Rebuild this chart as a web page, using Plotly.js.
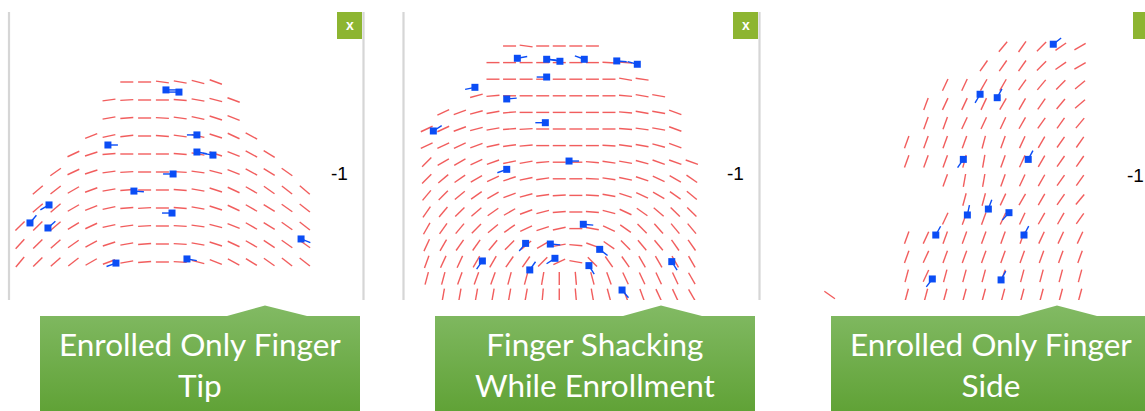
<!DOCTYPE html>
<html><head><meta charset="utf-8">
<script src="https://cdn.plot.ly/plotly-3.0.1.min.js"></script>
<style>html,body{margin:0;padding:0;background:#fff;}#chart{width:1145px;height:411px;}</style>
</head><body><div id="chart"></div>
<script>
// ===== DATA =====
// Panel 1: "Enrolled Only Finger Tip" — ridge orientation (degrees) per grid row, first column per row
const tipRowStart = [6,5,5,4,3,2,1,1,0,0,0];
const tipAngles = [
  [0,0,-8,-10,-15,-20],
  [8,3,0,0,-5,-10,-15,-20],
  [10,5,0,-3,-8,-12,-18,-22],
  [22,12,6,0,-4,-8,-12,-18,-25,-28],
  [25,18,5,0,0,0,-5,-10,-18,-22,-28,-32],
  [35,25,18,8,3,0,0,-3,-8,-15,-22,-28,-32,-35],
  [40,38,30,20,10,5,0,0,-5,-10,-18,-25,-30,-35,-38,-40],
  [40,40,30,22,12,5,3,0,-5,-10,-18,-25,-30,-32,-35,-38],
  [45,45,40,32,25,12,8,3,0,-3,-8,-15,-22,-30,-32,-35,-38],
  [48,45,42,35,28,18,10,5,0,-3,-10,-18,-25,-30,-33,-35,-35],
  [50,45,42,38,30,20,10,5,0,-3,-15,-22,-28,-32,-35,-38,-38]
];
// minutiae: grid column, grid row, direction (degrees)
const tipMinCol = [8.20,8.93,9.94,4.94,9.94,10.84,8.60,6.40,1.63,0.56,1.57,8.54,15.79,5.39,9.38];
const tipMinRow = [0.44,0.56,2.94,3.50,3.89,4.06,5.11,6.06,6.83,7.83,8.11,7.28,8.72,10.06,9.83];
const tipMinDir = [0,180,180,0,-10,170,180,-4,210,50,42,180,-22,200,-10];

// Panel 2: "Finger Shacking While Enrollment"
const shakeRowStart = [5,4,4,3,1,0,0,0,0,0,0,0,0,0,0,1];
const shakeAngles = [
  [0,-8,0,0,0,0],
  [0,0,0,0,0,0,0,-3,-5],
  [0,0,0,0,0,0,0,0,-10,-8],
  [15,5,0,0,0,0,0,0,0,-5,-10,-10],
  [25,20,15,10,5,0,0,0,0,0,0,-5,-10,-10,-20],
  [25,25,20,15,10,5,3,0,0,0,0,0,-5,-8,-10,-20],
  [25,25,25,20,12,8,5,0,0,0,0,-3,-8,-10,-15,-20],
  [45,30,30,25,20,12,10,5,0,0,-5,-8,-10,-15,-20,-20,-20],
  [45,40,35,30,25,18,12,8,0,0,-3,-8,-12,-18,-25,-30,-35],
  [50,45,40,35,30,20,15,8,3,0,-3,-10,-18,-25,-30,-35,-40],
  [55,50,45,40,35,30,20,15,5,0,-5,-15,-25,-35,-40,-45,-45],
  [60,55,50,45,40,35,25,18,12,0,-10,-25,-35,-45,-48,-50,-50],
  [65,60,55,55,50,45,40,30,10,-5,-20,-35,-45,-50,-50,-55,-55],
  [70,65,65,60,60,55,55,45,25,-10,-45,-55,-55,-60,-60,-60,-60],
  [75,75,70,70,70,75,75,80,90,-85,-75,-70,-65,-65,-65,-65,-60],
  [80,80,80,80,80,80,85,90,-85,-80,-75,-70,-70,-65,-65,-60]
];
const shakeMinCol = [5.47,7.24,8.04,9.51,11.47,12.71,7.24,2.91,4.83,7.16,0.40,8.59,4.83,9.45,5.97,7.46,10.44,3.36,7.74,6.22,9.79,14.79,11.79];
const shakeMinRow = [0.74,0.80,0.92,0.80,0.90,1.10,1.87,2.49,3.19,4.62,5.12,6.93,7.43,10.74,11.89,11.93,12.25,12.95,12.79,13.49,13.23,12.99,14.70];
const shakeMinDir = [10,-5,170,160,-5,165,180,192,5,180,33,0,200,-5,230,-5,-38,235,213,55,-58,-58,-50];

// Panel 3: "Enrolled Only Finger Side"
const sideRowStart = [5,4,2,1,1,0,0,2,3,2,0,0,0,-4];
const sideAngles = [
  [50,55,45,35,30],
  [55,55,55,45,35,30],
  [65,65,60,60,55,50,45,40],
  [70,65,65,65,60,60,55,50,40],
  [70,70,65,65,65,60,55,55,50],
  [70,70,70,70,75,70,65,60,55,55],
  [70,70,70,75,80,70,65,60,55,55],
  [70,80,80,70,65,60,55,55],
  [75,75,65,60,60,55,50],
  [65,70,70,65,65,60,60,55],
  [70,65,70,70,70,70,70,65,65,65],
  [70,65,70,70,70,70,70,70,70,70],
  [75,65,75,75,75,70,75,75,75,75],
  [-35,null,null,null,75,75,75,75,75,75,75,75,75,75]
];
const sideMinCol = [7.61,3.81,4.70,2.94,6.31,3.15,4.24,5.31,1.51,6.09,1.33,4.90];
const sideMinRow = [-0.13,2.49,2.67,5.90,5.90,8.81,8.50,8.69,9.86,9.86,12.16,12.21];
const sideMinDir = [38,240,62,235,62,78,70,228,61,62,233,62];

const panelLabels = ["Enrolled Only Finger<br>Tip", "Finger Shacking<br>While Enrollment", "Enrolled Only Finger<br>Side"];
const axisMarks = ["-1", "-1", "-1"];

// ===== GEOMETRY / STYLE =====
const W = 1145, H = 411;
const panels = [
  {box:[10,362,12,300], x0:20, dx:17.8, y0:82, dy:18, start:tipRowStart, ang:tipAngles, mc:tipMinCol, mr:tipMinRow, md:tipMinDir},
  {box:[404,759,12,300], x0:426.7, dx:16.57, y0:46, dy:16.6, start:shakeRowStart, ang:shakeAngles, mc:shakeMinCol, mr:shakeMinRow, md:shakeMinDir},
  {box:[770,1145,12,300], x0:906.7, dx:19.26, y0:46.7, dy:19.1, start:sideRowStart, ang:sideAngles, mc:sideMinCol, mr:sideMinRow, md:sideMinDir}
];
const SEG = 13, TAIL = 10;
const RED = 'rgba(240,75,75,0.9)', BLUE = '#0b4df5';

const traces = [];
const layout = {
  width:W, height:H, margin:{l:0,r:0,t:0,b:0},
  paper_bgcolor:'#fff', plot_bgcolor:'rgba(0,0,0,0)', showlegend:false,
  shapes:[], annotations:[]
};
const hid = {visible:false, showgrid:false, zeroline:false, fixedrange:true};

panels.forEach((p, i) => {
  const n = i + 1, xa = 'x' + (n===1?'':n), ya = 'y' + (n===1?'':n);
  const [px0, px1, py0, py1] = p.box;
  layout['xaxis' + (n===1?'':n)] = Object.assign({}, hid, {domain:[px0/W, px1/W], range:[(px0-p.x0)/p.dx, (px1-p.x0)/p.dx], anchor:ya});
  layout['yaxis' + (n===1?'':n)] = Object.assign({}, hid, {domain:[1-py1/H, 1-py0/H], range:[(py1-p.y0)/p.dy, (py0-p.y0)/p.dy], anchor:xa});
  // orientation field
  const fx = [], fy = [];
  p.ang.forEach((row, r) => row.forEach((a, k) => {
    if (a === null) return;
    const c = p.start[r] + k, t = a*Math.PI/180;
    const hx = SEG/2*Math.cos(t)/p.dx, hy = -SEG/2*Math.sin(t)/p.dy;
    fx.push(c-hx, c+hx, null); fy.push(r-hy, r+hy, null);
  }));
  traces.push({type:'scatter', mode:'lines', x:fx, y:fy, xaxis:xa, yaxis:ya, line:{color:RED, width:1.4}, hoverinfo:'skip'});
  // minutiae tails
  const tx = [], ty = [];
  p.mc.forEach((c, k) => {
    const r = p.mr[k], t = p.md[k]*Math.PI/180;
    tx.push(c, c + TAIL*Math.cos(t)/p.dx, null);
    ty.push(r, r - TAIL*Math.sin(t)/p.dy, null);
  });
  traces.push({type:'scatter', mode:'lines', x:tx, y:ty, xaxis:xa, yaxis:ya, line:{color:BLUE, width:1.4}, hoverinfo:'skip'});
  traces.push({type:'scatter', mode:'markers', x:p.mc, y:p.mr, xaxis:xa, yaxis:ya, marker:{symbol:'square', size:7, color:BLUE}, hoverinfo:'skip'});
});

// overlay pixel axis for decorations
layout.xaxis4 = Object.assign({}, hid, {domain:[0,1], range:[0,W], anchor:'y4'});
layout.yaxis4 = Object.assign({}, hid, {domain:[0,1], range:[H,0], anchor:'x4'});

const frames = [
  {lx:9, rx:363.5, xbox:[337,362], mark:[339,173], call:[40,360], tab:[227,265,307]},
  {lx:403.5, rx:759.5, xbox:[733,758], mark:[735,173], call:[435,755], tab:[623,661,702]},
  {lx:null, rx:null, xbox:[1133,1158], mark:[1135,175], call:[831,1151], tab:[1019,1057,1097]}
];
frames.forEach((f, i) => {
  [f.lx, f.rx].forEach(x => { if (x !== null) layout.shapes.push({type:'line', xref:'x4', yref:'y4', x0:x, x1:x, y0:12, y1:300, line:{color:'#d6d6d6', width:2.2}}); });
  layout.shapes.push({type:'rect', xref:'x4', yref:'y4', x0:f.xbox[0], x1:f.xbox[1], y0:12, y1:39, fillcolor:'#8db531', line:{width:0}});
  layout.annotations.push({xref:'x4', yref:'y4', x:(f.xbox[0]+f.xbox[1])/2, y:24.5, text:'x', showarrow:false, font:{family:'Liberation Sans, Arial', size:14, color:'#ffffff', weight:'bold'}});
  layout.annotations.push({xref:'x4', yref:'y4', x:f.mark[0], y:f.mark[1], text:axisMarks[i], showarrow:false, font:{family:'Liberation Sans, Arial', size:19, color:'#000'}});
  const [a, b] = f.call, [t0, tm, t1] = f.tab;
  traces.push({type:'scatter', mode:'lines', xaxis:'x4', yaxis:'y4', x:[a,t0,tm,t1,b,b,a,a], y:[316,316,305.5,316,316,412,412,316],
    fill:'toself', line:{width:0, color:'rgba(0,0,0,0)'}, fillgradient:{type:'vertical', start:305, stop:412, colorscale:[[0,'#82ba64'],[1,'#60a236']]}, hoverinfo:'skip'});
  layout.annotations.push({xref:'x4', yref:'y4', x:(a+Math.min(b,W+6))/2, y:364, text:panelLabels[i], showarrow:false, font:{family:'Lato', size:31.5, color:'#fff'}});
});

Plotly.newPlot('chart', traces, layout, {staticPlot:true, displayModeBar:false});
</script></body></html>
